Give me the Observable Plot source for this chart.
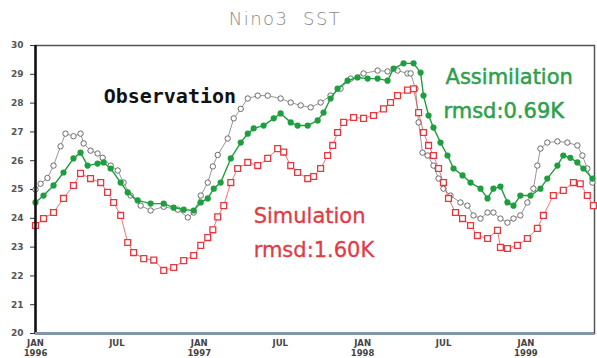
<!DOCTYPE html>
<html>
<head>
<meta charset="utf-8">
<script src="https://cdn.jsdelivr.net/npm/d3@7"></script>
<script src="https://cdn.jsdelivr.net/npm/@observablehq/plot@0.6"></script>
<style>
  html, body { margin: 0; padding: 0; background: #fff; }
  #chart { width: 597px; height: 358px; }
</style>
</head>
<body>
<div id="chart"></div>
<script>
// ---- data (decimal years, SST in deg C) ----
const title = "Nino3  SST";

const obsT = [1996.000,1996.031,1996.073,1996.110,1996.153,1996.183,1996.232,1996.275,1996.294,1996.336,1996.379,1996.410,1996.459,1996.502,1996.538,1996.581,1996.642,1996.703,1996.783,1996.869,1996.930,1996.966,1997.009,1997.052,1997.083,1997.113,1997.174,1997.211,1997.254,1997.297,1997.358,1997.419,1997.498,1997.560,1997.621,1997.682,1997.743,1997.804,1997.865,1997.927,1998.006,1998.092,1998.153,1998.214,1998.275,1998.294,1998.324,1998.343,1998.367,1998.398,1998.434,1998.465,1998.495,1998.538,1998.599,1998.642,1998.679,1998.722,1998.765,1998.801,1998.844,1998.887,1998.924,1998.966,1999.009,1999.046,1999.070,1999.089,1999.131,1999.193,1999.254,1999.315,1999.346,1999.376,1999.407];
const obsV = [25.0,25.2,25.4,25.83,26.5,26.94,26.85,26.94,26.6,26.35,26.25,26.1,25.83,25.66,25.24,24.79,24.44,24.27,24.4,24.3,24.03,24.2,24.79,25.24,25.8,26.2,26.77,27.47,27.8,28.16,28.26,28.26,28.16,28.02,27.92,27.85,28.02,28.26,28.5,28.85,29.03,29.13,29.1,29.13,29.03,29.03,28.5,27.33,26.28,26.18,25.83,25.38,25.03,24.79,24.55,24.44,24.1,23.99,24.2,24.2,23.99,23.85,23.99,24.1,24.55,25.03,25.83,26.42,26.63,26.67,26.63,26.53,26.18,25.73,25.24];

const asmT = [1996.000,1996.049,1996.110,1996.171,1996.232,1996.275,1996.318,1996.379,1996.416,1996.459,1996.520,1996.563,1996.624,1996.703,1996.783,1996.844,1996.905,1996.966,1997.009,1997.052,1997.089,1997.131,1997.193,1997.254,1997.297,1997.333,1997.394,1997.456,1997.498,1997.560,1997.602,1997.664,1997.725,1997.761,1997.804,1997.847,1997.908,1997.969,1998.031,1998.092,1998.153,1998.190,1998.251,1998.312,1998.355,1998.373,1998.404,1998.434,1998.477,1998.520,1998.557,1998.612,1998.661,1998.722,1998.765,1998.801,1998.844,1998.887,1998.924,1998.966,1999.028,1999.089,1999.131,1999.193,1999.229,1999.272,1999.315,1999.352,1999.407];
const asmV = [24.55,24.79,25.14,25.59,26.08,26.28,25.83,25.9,25.94,25.73,25.24,24.9,24.62,24.51,24.51,24.37,24.3,24.27,24.55,24.69,25.03,25.24,26.08,26.63,26.94,27.12,27.22,27.47,27.64,27.33,27.22,27.22,27.4,27.67,28.16,28.5,28.78,28.89,28.85,28.85,28.78,29.2,29.38,29.38,29.06,28.26,27.57,27.15,26.63,26.18,25.73,25.49,25.24,25.03,24.69,25.03,25.1,24.55,24.44,24.79,24.79,25.03,25.38,25.83,26.18,26.1,25.94,25.73,25.38];

const simT = [1996.000,1996.049,1996.110,1996.171,1996.232,1996.275,1996.336,1996.398,1996.440,1996.477,1996.520,1996.563,1996.599,1996.661,1996.722,1996.783,1996.844,1996.905,1996.966,1997.009,1997.052,1997.083,1997.113,1997.150,1997.193,1997.235,1997.297,1997.358,1997.419,1997.480,1997.517,1997.560,1997.602,1997.664,1997.700,1997.743,1997.786,1997.817,1997.847,1997.884,1997.945,1998.006,1998.067,1998.128,1998.171,1998.214,1998.275,1998.312,1998.343,1998.373,1998.404,1998.434,1998.465,1998.495,1998.526,1998.569,1998.612,1998.661,1998.703,1998.765,1998.826,1998.844,1998.887,1998.948,1999.009,1999.070,1999.107,1999.168,1999.229,1999.291,1999.333,1999.376,1999.413];
const simV = [23.75,23.99,24.2,24.69,25.14,25.56,25.38,25.24,24.9,24.55,24.1,23.16,22.81,22.6,22.55,22.19,22.29,22.53,22.71,23.06,23.33,23.6,24.05,24.44,25.24,25.73,25.94,25.83,26.08,26.42,26.3,25.83,25.59,25.38,25.45,25.73,26.18,26.53,26.98,27.33,27.5,27.47,27.57,27.8,28.02,28.26,28.45,28.5,27.67,26.98,26.53,26.18,25.73,25.24,24.69,24.2,23.99,23.75,23.4,23.3,23.58,22.99,22.95,23.06,23.3,23.65,24.1,24.79,24.97,25.24,25.2,24.79,24.44];

const yTicks = [20,21,22,23,24,25,26,27,28,29,30];
const xTickDates = ["1996-01-01","1996-07-01","1997-01-01","1997-07-01","1998-01-01","1998-07-01","1999-01-01"];
const xTickLabels = ["JAN\n1996","JUL","JAN\n1997","JUL","JAN\n1998","JUL","JAN\n1999"];

const seriesNames = ["Observation","Assimilation","Simulation"];
const rmsdLabels = ["rmsd:0.69K","rmsd:1.60K"];

// ---- build ----
const toDate = t => {
  const y = Math.floor(t);
  const s = Date.UTC(y, 0, 1), e = Date.UTC(y + 1, 0, 1);
  return new Date(s + (t - y) * (e - s));
};
const mk = (T, V) => T.map((t, i) => ({date: toDate(t), v: V[i]}));
const obs = mk(obsT, obsV), asm = mk(asmT, asmV), sim = mk(simT, simV);

const xDomain = [toDate(1996.0), toDate(1999.42)];
const tickMap = new Map(xTickDates.map((d, i) => [+new Date(d), xTickLabels[i]]));

const GREEN = "#1f9e3f", GREEN_T = "#2ea04c", RED = "#e8363f", RED_T = "#e23a45", GRAY = "#6a6a6a";

const annotations = [
  {t: 1996.416, v: 27.99, text: seriesNames[0]},
];
const asmLabels = [
  {t: 1998.508, v: 28.68, text: seriesNames[1]},
  {t: 1998.495, v: 27.47, text: rmsdLabels[0]},
];
const simLabels = [
  {t: 1997.333, v: 23.85, text: seriesNames[2]},
  {t: 1997.333, v: 22.64, text: rmsdLabels[1]},
];

const plot = Plot.plot({
  width: 597,
  height: 358,
  marginLeft: 35,
  marginRight: 3,
  marginTop: 45,
  marginBottom: 25,
  style: {background: "#fff", fontFamily: "DejaVu Sans, sans-serif", overflow: "visible"},
  x: {type: "utc", domain: xDomain},
  y: {domain: [20, 30]},
  marks: [
    Plot.frame({stroke: "#555", strokeWidth: 1.5}),
    Plot.axisY({ticks: yTicks, tickSize: 5, tickPadding: 7, fontSize: 9, fontWeight: "bold", fill: "#555", stroke: "#333", label: null, tickFormat: d => String(d)}),
    Plot.axisX({ticks: xTickDates.map(d => new Date(d)), tickFormat: d => tickMap.get(+d), tickSize: 2, tickPadding: 3, fontSize: 8.5, fontWeight: "bold", fill: "#444", stroke: "#333", label: null, lineHeight: 1.2}),
    Plot.line(obs, {x: "date", y: "v", stroke: GRAY, strokeWidth: 0.7}),
    Plot.dot(obs, {x: "date", y: "v", r: 2.7, stroke: GRAY, strokeWidth: 1, fill: "#fff"}),
    Plot.line(asm, {x: "date", y: "v", stroke: GREEN, strokeWidth: 1.4}),
    Plot.dot(asm, {x: "date", y: "v", r: 3.1, fill: GREEN, stroke: "none"}),
    Plot.line(sim, {x: "date", y: "v", stroke: RED, strokeWidth: 0.7}),
    Plot.dot(sim, {x: "date", y: "v", symbol: "square", r: 3.3, stroke: RED, strokeWidth: 1.3, fill: "#fff"}),
    Plot.ruleX([xDomain[0]], {stroke: "#111", strokeWidth: 2.5}),
    Plot.ruleY([20], {stroke: "#8395a8", strokeWidth: 3}),
    Plot.text(annotations, {x: d => toDate(d.t), y: "v", text: "text", textAnchor: "start", lineAnchor: "bottom", fontFamily: "DejaVu Sans Mono, monospace", fontWeight: "bold", fontSize: 20, fill: "#111"}),
    Plot.text(asmLabels, {x: d => toDate(d.t), y: "v", text: "text", textAnchor: "start", lineAnchor: "bottom", fontFamily: "DejaVu Sans, sans-serif", fontSize: 21, fill: GREEN_T, stroke: GREEN_T, strokeWidth: 0.5}),
    Plot.text(simLabels, {x: d => toDate(d.t), y: "v", text: "text", textAnchor: "start", lineAnchor: "bottom", fontFamily: "DejaVu Sans, sans-serif", fontSize: 21, fill: RED_T, stroke: RED_T, strokeWidth: 0.3}),
    Plot.text([title], {frameAnchor: "top", dx: -30, dy: -26, lineAnchor: "middle", fontSize: 18, fontWeight: 300, fill: "#8a8a8a"})
  ]
});

plot.querySelectorAll("text").forEach(t => {
  if (t.textContent === title) t.setAttribute("letter-spacing", "1.5");
});
document.getElementById("chart").appendChild(plot);
</script>
</body>
</html>
